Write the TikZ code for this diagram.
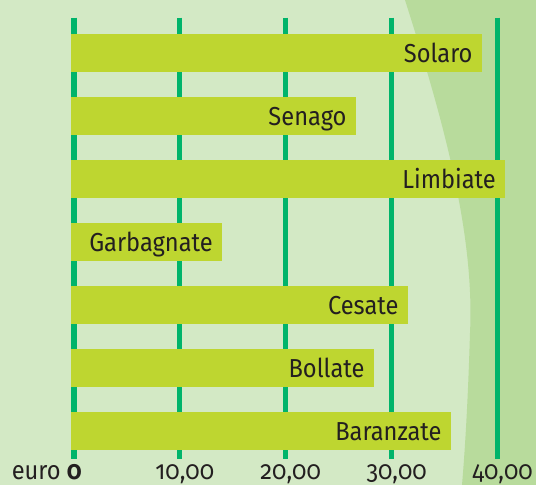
\documentclass[tikz,border=0pt]{standalone}
\usepackage{fontspec}
\setmainfont{Fira Sans}[Numbers=OldStyle, FakeStretch=0.91]
\usepackage{tikz}
\definecolor{bglight}{HTML}{D3E9C5}
\definecolor{bgdark}{HTML}{B8DB9C}
\definecolor{barfill}{HTML}{BED630}
\definecolor{gridgreen}{HTML}{00B46A}
\definecolor{inkgray}{HTML}{231F20}
\tikzstyle{bar}=[fill=barfill, draw=none, anchor=north west, minimum height=37.7pt, inner sep=0pt, outer sep=0pt]
\tikzstyle{town}=[anchor=base east, text=inkgray, font=\fontsize{26}{30}\selectfont, inner sep=0pt]
\tikzstyle{tick}=[anchor=base, text=inkgray, font=\fontsize{26}{30}\selectfont, inner sep=0pt]
\tikzstyle{gridline}=[draw=gridgreen, line width=5.3pt]

\begin{document}
\begin{tikzpicture}[x=1pt, y=-1pt]
    \useasboundingbox (0,0) rectangle (536,485);
    \fill[bglight] (0,0) rectangle (536,485);
    \fill[bgdark] (405,0) .. controls (440,110) and (475,230) .. (470,333)
        .. controls (468,400) and (465,450) .. (462,485) -- (536,485) -- (536,0) -- cycle;

    % grid lines every 10 euro
    \foreach \x in {74, 179.8, 285.7, 391.7, 497.6}
        \draw[gridline] (\x,17.5) -- (\x,459);

    % bars and town names
    \foreach \top/\w/\name in {
                            {34/410.7/Solaro},
                            {97/284.7/Senago},
                            {160/434/Limbiate},
                            {223/151/Garbagnate},
                            {286/336.7/Cesate},
                            {349/302.7/Bollate},
                            {412/379.7/Baranzate}}
    {
        \node[bar, minimum width=\w pt] (\name) at (71,\top) {};
        \node[town] (\name-label) at ([xshift=-9pt, yshift=-9.5pt]\name.east) {\name};
    }

    % axis labels
    \node[tick, anchor=base east] (t0) at (82,479.5) {euro \textbf{0}};
    \foreach \x/\val/\name in {
                            {184.8/10,00/t10},
                            {290.7/20,00/t20},
                            {396.7/30,00/t30},
                            {502.6/40,00/t40}}
        \node[tick] (\name) at (\x,479.5) {\val};

\end{tikzpicture}
\end{document}
